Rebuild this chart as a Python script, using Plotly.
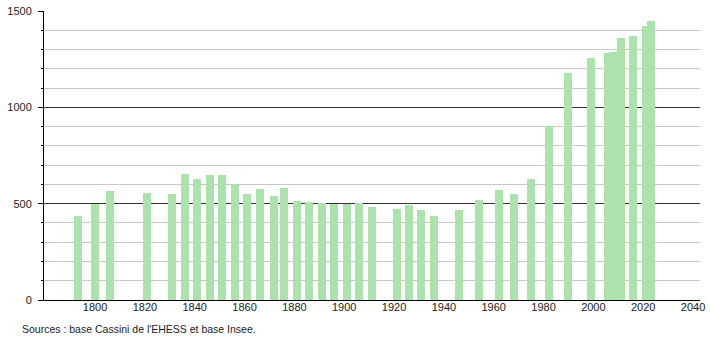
import plotly.graph_objects as go

years = [1793, 1800, 1806, 1821, 1831, 1836, 1841, 1846, 1851, 1856, 1861, 1866,
         1872, 1876, 1881, 1886, 1891, 1896, 1901, 1906, 1911, 1921, 1926, 1931,
         1936, 1946, 1954, 1962, 1968, 1975, 1982, 1990, 1999, 2006, 2008, 2011,
         2016, 2021, 2023]
population = [437, 497, 566, 555, 550, 654, 628, 649, 649, 602, 550, 576,
              540, 583, 514, 509, 502, 500, 497, 502, 484, 472, 493, 467,
              436, 467, 521, 571, 550, 628, 903, 1178, 1255, 1280, 1289, 1360,
              1372, 1422, 1448]
x_ticks = [1800, 1820, 1840, 1860, 1880, 1900, 1920, 1940, 1960, 1980, 2000, 2020, 2040]
y_ticks = [0, 500, 1000, 1500]
source_text = "Sources : base Cassini de l'EHESS et base Insee."

W, H = 710, 340
ml, mr, mt, mb = 44, 10, 11, 40
pw, ph = W - ml - mr, H - mt - mb

fig = go.Figure()
fig.add_trace(go.Bar(
    x=years, y=population, width=3.2,
    marker=dict(color="rgb(172,226,172)", line=dict(width=0)),
    hoverinfo="x+y",
))

fig.update_layout(
    width=W, height=H,
    margin=dict(l=ml, r=mr, t=mt, b=mb, pad=0, autoexpand=False),
    paper_bgcolor="white", plot_bgcolor="white",
    showlegend=False,
    font=dict(family="Liberation Sans, Arial, sans-serif", size=11, color="#222"),
    bargap=0,
    xaxis=dict(
        range=[1779.5, 2042.8],
        tickvals=x_ticks,
        ticktext=[str(v) for v in x_ticks],
        showgrid=False, zeroline=False, automargin=False,
        showline=True, linecolor="black", linewidth=1,
        ticks="", ticklen=0, ticklabelstandoff=-3,
        tickfont=dict(size=11, color="#222"),
    ),
    yaxis=dict(
        range=[0, 1500],
        tickvals=y_ticks,
        showgrid=True, gridcolor="#333", gridwidth=1,
        zeroline=False, automargin=False,
        showline=True, linecolor="black", linewidth=1,
        ticks="outside", ticklen=5, tickcolor="black", ticklabelstandoff=4,
        tickfont=dict(size=11, color="#222"),
        minor=dict(dtick=100, showgrid=True, gridcolor="#c8c8c8", gridwidth=1,
                   ticks="outside", ticklen=2, tickcolor="black"),
    ),
    annotations=[dict(
        text=source_text, xref="paper", yref="paper",
        x=(20 - ml) / pw, y=-(329 - (H - mb)) / ph,
        xanchor="left", yanchor="middle", showarrow=False,
        font=dict(size=10.5, color="#222"),
    )],
)

fig.write_html("out.html")
